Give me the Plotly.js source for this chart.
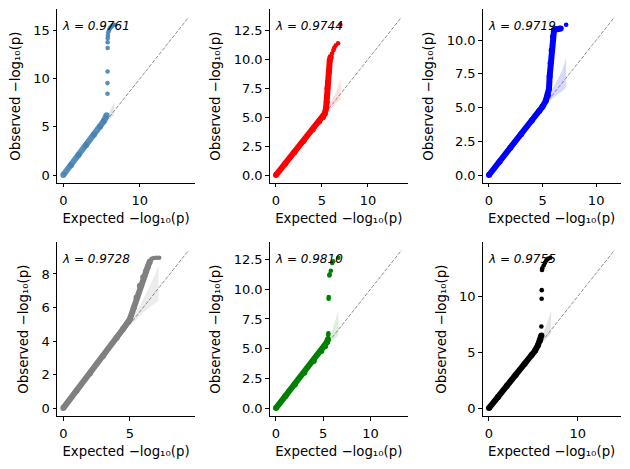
<!DOCTYPE html>
<html><head><meta charset="utf-8">
<script src="https://cdn.plot.ly/plotly-3.0.1.min.js"></script>
<style>html,body{margin:0;padding:0;background:#fff}#chart{width:630px;height:469px}</style>
</head><body><div id="chart"></div>
<script>
// ---- data ----
const lambdaLabels = ['0.9761', '0.9744', '0.9719', '0.9728', '0.9810', '0.9755'];

// Panel 1
const p1BodyExp = [0, 1, 2, 3, 4, 4.8, 5.3, 5.66];
const p1BodyObs = [0, 1.02, 2.08, 3.13, 4.18, 5.02, 5.6, 6.2];
const p1TailExp = [5.78, 5.78, 5.79, 5.8, 5.8, 5.81, 5.83, 5.88, 5.98, 6.1, 6.25, 6.4, 6.55, 6.65];
const p1TailObs = [8.45, 9.55, 10.75, 13.2, 13.8, 14.2, 14.5, 14.8, 15.05, 15.25, 15.4, 15.5, 15.58, 15.62];
const p1CiExp = [5.2, 5.6, 6.0, 6.3, 6.65];
const p1CiUpper = [5.45, 5.95, 6.5, 7.0, 7.6];
const p1CiLower = [5.0, 5.35, 5.75, 6.0, 6.2];

// Panel 2
const p2BodyExp = [0, 1, 2, 3, 4, 4.7, 5.1, 5.3, 5.45, 5.52, 5.55, 5.6, 5.65, 5.75, 5.85, 5.95];
const p2BodyObs = [0, 0.98, 1.96, 2.95, 3.93, 4.62, 5.0, 5.3, 5.8, 6.3, 6.75, 7.5, 8.05, 8.9, 9.9, 10.2];
const p2TailExp = [6.1, 6.25, 6.35, 6.5, 6.75, 7.0];
const p2TailObs = [10.5, 10.8, 11.0, 11.2, 11.4, 13.0];
const p2CiExp = [5.3, 5.8, 6.3, 6.7, 7.05];
const p2CiUpper = [5.45, 6.1, 6.8, 7.5, 8.4];
const p2CiLower = [5.2, 5.6, 6.0, 6.3, 6.6];

// Panel 3
const p3BodyExp = [0, 1, 2, 3, 4, 4.7, 5.0, 5.3, 5.5, 5.6, 5.66, 5.75, 5.85, 5.97, 6.07, 6.2, 6.4, 6.7];
const p3BodyObs = [0, 1.0, 2.02, 3.03, 4.05, 4.75, 5.08, 5.5, 5.9, 6.4, 7.3, 8.3, 9.25, 10.25, 10.75, 10.8, 10.82, 10.87];
const p3TailExp = [7.2];
const p3TailObs = [11.15];
const p3CiExp = [5.3, 5.8, 6.3, 6.8, 7.2];
const p3CiUpper = [5.45, 6.2, 6.9, 7.7, 8.7];
const p3CiLower = [5.2, 5.6, 5.9, 6.2, 6.5];

// Panel 4
const p4BodyExp = [0, 1, 2, 3, 4, 4.5, 5.0, 5.3, 5.5, 5.75, 6.0, 6.2, 6.35, 6.5];
const p4BodyObs = [0, 1.03, 2.07, 3.12, 4.18, 4.73, 5.3, 6.0, 6.6, 7.3, 7.8, 8.15, 8.45, 8.75];
const p4TailExp = [6.63, 6.8, 7.0, 7.2];
const p4TailObs = [8.9, 8.95, 8.97, 8.97];
const p4CiExp = [5.0, 5.5, 6.0, 6.5, 7.15];
const p4CiUpper = [5.15, 5.8, 6.5, 7.3, 8.45];
const p4CiLower = [4.9, 5.3, 5.7, 6.0, 6.4];

// Panel 5
const p5BodyExp = [0, 1, 2, 3, 4, 4.8, 5.2, 5.4, 5.5];
const p5BodyObs = [0, 1.0, 1.99, 2.98, 3.96, 4.8, 5.2, 5.55, 5.8];
const p5TailExp = [5.53, 5.54, 5.57, 5.58, 5.65, 5.68, 5.8, 5.95, 6.05, 6.6];
const p5TailObs = [6.15, 6.3, 9.2, 9.35, 11.15, 11.25, 11.55, 12.2, 12.35, 12.65];
const p5CiExp = [5.2, 5.6, 6.0, 6.3, 6.6];
const p5CiUpper = [5.35, 5.9, 6.7, 7.4, 8.2];
const p5CiLower = [5.1, 5.4, 5.7, 5.9, 6.1];

// Panel 6
const p6BodyExp = [0, 1, 2, 3, 4, 4.8, 5.2, 5.5, 5.75, 5.9];
const p6BodyObs = [0, 0.98, 1.97, 2.96, 3.95, 4.75, 5.15, 5.6, 6.05, 6.5];
const p6TailExp = [5.9, 5.93, 5.94, 5.97, 6.0, 6.16, 6.3, 6.45, 6.64, 6.9];
const p6TailObs = [7.3, 9.78, 10.55, 12.35, 12.5, 12.75, 13.0, 13.2, 13.35, 13.45];
const p6CiExp = [5.6, 6.0, 6.4, 6.7, 7.0];
const p6CiUpper = [5.8, 6.5, 7.3, 8.0, 8.75];
const p6CiLower = [5.5, 5.85, 6.15, 6.4, 6.65];

// tick labels
const p1XTicks = [0, 10], p1YTicks = [0, 5, 10, 15];
const p2XTicks = [0, 5, 10], p2YTicks = [0, 2.5, 5, 7.5, 10, 12.5];
const p3XTicks = [0, 5, 10], p3YTicks = [0, 2.5, 5, 7.5, 10];
const p4XTicks = [0, 5], p4YTicks = [0, 2, 4, 6, 8];
const p5XTicks = [0, 5, 10], p5YTicks = [0, 2.5, 5, 7.5, 10, 12.5];
const p6XTicks = [0, 10], p6YTicks = [0, 5, 10];
const yTickDecimals = [0, 1, 1, 0, 1, 0];

// ---- styles ----
const panels = [
  {be:p1BodyExp, bo:p1BodyObs, te:p1TailExp, to:p1TailObs, ce:p1CiExp, cu:p1CiUpper, cl:p1CiLower, xt:p1XTicks, yt:p1YTicks},
  {be:p2BodyExp, bo:p2BodyObs, te:p2TailExp, to:p2TailObs, ce:p2CiExp, cu:p2CiUpper, cl:p2CiLower, xt:p2XTicks, yt:p2YTicks},
  {be:p3BodyExp, bo:p3BodyObs, te:p3TailExp, to:p3TailObs, ce:p3CiExp, cu:p3CiUpper, cl:p3CiLower, xt:p3XTicks, yt:p3YTicks},
  {be:p4BodyExp, bo:p4BodyObs, te:p4TailExp, to:p4TailObs, ce:p4CiExp, cu:p4CiUpper, cl:p4CiLower, xt:p4XTicks, yt:p4YTicks},
  {be:p5BodyExp, bo:p5BodyObs, te:p5TailExp, to:p5TailObs, ce:p5CiExp, cu:p5CiUpper, cl:p5CiLower, xt:p5XTicks, yt:p5YTicks},
  {be:p6BodyExp, bo:p6BodyObs, te:p6TailExp, to:p6TailObs, ce:p6CiExp, cu:p6CiUpper, cl:p6CiLower, xt:p6XTicks, yt:p6YTicks}
];
const colors = ['rgba(70,130,180,0.9)', '#ff0000', '#0000ff', '#808080', '#008000', '#000000'];
const bandColors = ['rgba(70,130,180,0.18)', 'rgba(255,0,0,0.13)', 'rgba(0,0,255,0.15)',
                    'rgba(128,128,128,0.15)', 'rgba(0,128,0,0.13)', 'rgba(0,0,0,0.1)'];

const W = 630, H = 469;
const colPx = [[57, 195], [269.7, 407.8], [482.7, 620.7]];
const rowPx = [[9.3, 182.9], [242.3, 416]];

const traces = [];
const layout = {
  width: W, height: H, margin: {l:0, r:0, t:0, b:0},
  paper_bgcolor: '#fff', plot_bgcolor: '#fff', showlegend: false,
  font: {family: 'DejaVu Sans', color: '#000'},
  annotations: []
};

panels.forEach((p, i) => {
  const n = i + 1;
  const xa = 'x' + (n === 1 ? '' : n), ya = 'y' + (n === 1 ? '' : n);
  const allVals = p.be.concat(p.bo, p.te, p.to);
  const D = 1.05 * Math.max.apply(null, allVals);
  // CI band
  traces.push({
    x: p.ce.concat(p.ce.slice().reverse()),
    y: p.cu.concat(p.cl.slice().reverse()),
    xaxis: xa, yaxis: ya, type: 'scatter', mode: 'lines', fill: 'toself',
    fillcolor: bandColors[i], line: {width: 0}, hoverinfo: 'skip'
  });
  // diagonal
  traces.push({
    x: [0, D], y: [0, D], xaxis: xa, yaxis: ya, type: 'scatter', mode: 'lines',
    line: {color: 'grey', width: 0.9, dash: '3.7px,1.6px'}, hoverinfo: 'skip'
  });
  // main body
  traces.push({
    x: p.be, y: p.bo, xaxis: xa, yaxis: ya, type: 'scatter', mode: 'lines+markers',
    line: {color: colors[i], width: 6}, marker: {color: colors[i], size: 6}
  });
  // tail points
  traces.push({
    x: p.te, y: p.to, xaxis: xa, yaxis: ya, type: 'scatter', mode: 'markers',
    marker: {color: colors[i], size: 4.6}
  });
  const col = i % 3, row = Math.floor(i / 3);
  const common = {
    showline: true, linecolor: '#000', linewidth: 1, ticks: 'outside', ticklen: 3.5,
    tickwidth: 1, tickcolor: '#000', showgrid: false, zeroline: false,
    tickfont: {size: 13, color: '#000'}, range: [-0.05 * D, 1.05 * D]
  };
  layout['xaxis' + (n === 1 ? '' : n)] = Object.assign({}, common, {
    domain: [colPx[col][0] / W, colPx[col][1] / W], anchor: ya,
    tickvals: p.xt, ticktext: p.xt.map(v => String(v)), ticklabelstandoff: 2,
    title: {text: 'Expected −log₁₀(p)', font: {size: 13.3, color: '#000'}, standoff: 6}
  });
  layout['yaxis' + (n === 1 ? '' : n)] = Object.assign({}, common, {
    domain: [1 - rowPx[row][1] / H, 1 - rowPx[row][0] / H], anchor: xa,
    tickvals: p.yt, ticktext: p.yt.map(v => v.toFixed(yTickDecimals[i])),
    title: {text: 'Observed −log₁₀(p)', font: {size: 13.3, color: '#000'}, standoff: 9}
  });
  layout.annotations.push({
    xref: xa + ' domain', yref: ya + ' domain', x: 0.025, y: 0.955,
    xanchor: 'left', yanchor: 'top', showarrow: false,
    text: '<i>λ = ' + lambdaLabels[i] + '</i>', font: {size: 12, color: '#000'}
  });
});

Plotly.newPlot('chart', traces, layout, {staticPlot: true, displayModeBar: false});
</script></body></html>
